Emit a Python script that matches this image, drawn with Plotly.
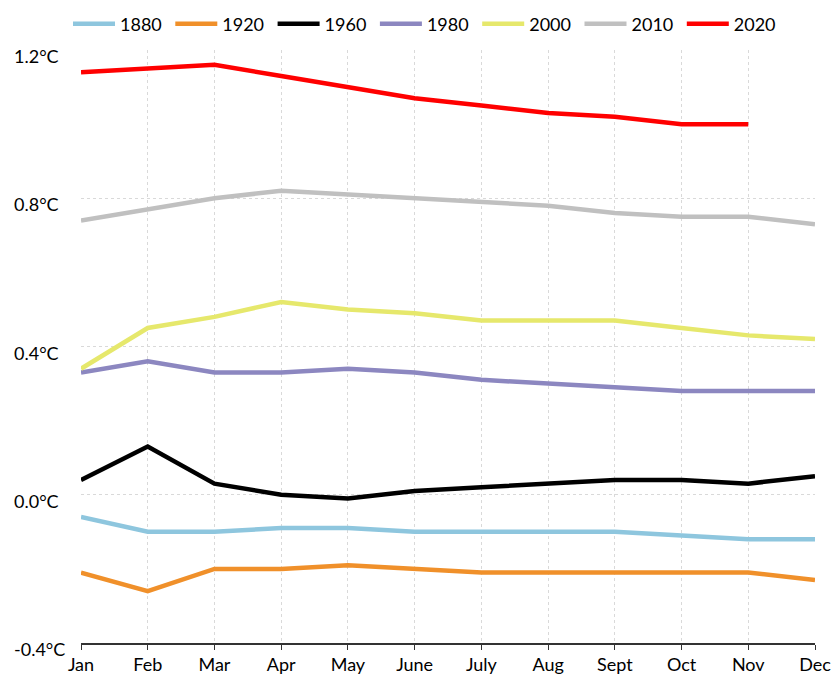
import plotly.graph_objects as go

months = ["Jan", "Feb", "Mar", "Apr", "May", "June", "July", "Aug", "Sept", "Oct", "Nov", "Dec"]

y1880 = [-0.06, -0.10, -0.10, -0.09, -0.09, -0.10, -0.10, -0.10, -0.10, -0.11, -0.12, -0.12]
y1920 = [-0.21, -0.26, -0.20, -0.20, -0.19, -0.20, -0.21, -0.21, -0.21, -0.21, -0.21, -0.23]
y1960 = [0.04, 0.13, 0.03, 0.00, -0.01, 0.01, 0.02, 0.03, 0.04, 0.04, 0.03, 0.05]
y1980 = [0.33, 0.36, 0.33, 0.33, 0.34, 0.33, 0.31, 0.30, 0.29, 0.28, 0.28, 0.28]
y2000 = [0.34, 0.45, 0.48, 0.52, 0.50, 0.49, 0.47, 0.47, 0.47, 0.45, 0.43, 0.42]
y2010 = [0.74, 0.77, 0.80, 0.82, 0.81, 0.80, 0.79, 0.78, 0.76, 0.75, 0.75, 0.73]
y2020 = [1.14, 1.15, 1.16, 1.13, 1.10, 1.07, 1.05, 1.03, 1.02, 1.00, 1.00]

series = [
    ("1880", y1880, "#8ec6de"),
    ("1920", y1920, "#f0902a"),
    ("1960", y1960, "#000000"),
    ("1980", y1980, "#8c87c0"),
    ("2000", y2000, "#e6e86c"),
    ("2010", y2010, "#c0c0c0"),
    ("2020", y2020, "#ff0000"),
]

yticks = [-0.4, 0.0, 0.4, 0.8, 1.2]
ytick_labels = ["-0.4°C", "0.0°C", "0.4°C", "0.8°C", "1.2°C"]

FONT = "Lato, sans-serif"
W, H = 832, 675
ML, MR, MT, MB = 81, 17, 50, 32
PW, PH = W - ML - MR, H - MT - MB

fig = go.Figure()
for name, vals, col in series:
    fig.add_trace(go.Scatter(
        x=months[:len(vals)], y=vals, name=name, mode="lines",
        line=dict(color=col, width=4.5),
    ))

# y tick labels, left aligned like the reference
for v, t in zip(yticks, ytick_labels):
    fig.add_annotation(
        text=t, xref="paper", yref="y", x=-(ML - 12) / PW, y=v,
        xanchor="left", yanchor="middle", yshift=-6, showarrow=False,
        font=dict(family=FONT, size=18, color="black"),
    )

fig.update_layout(
    width=W, height=H,
    paper_bgcolor="white", plot_bgcolor="white",
    margin=dict(l=ML, r=MR, t=MT, b=MB, autoexpand=False),
    font=dict(family=FONT, size=18, color="black"),
    legend=dict(orientation="h", xref="container", yref="container",
                x=68 / W, xanchor="left", y=1 - 24 / H, yanchor="middle",
                font=dict(size=18), itemwidth=42, entrywidth=45.3, entrywidthmode="pixels",
                tracegroupgap=0),
    showlegend=True,
)
fig.update_xaxes(
    type="category", categoryorder="array", categoryarray=months,
    range=[0, 11], showgrid=True, gridcolor="#d9d9d9", griddash="3px,3px", gridwidth=1,
    showline=True, linecolor="#333333", linewidth=1.5,
    ticks="outside", ticklen=5, tickcolor="#333333", automargin=False,
)
fig.update_yaxes(
    range=[-0.4, 1.2], tickvals=yticks, showticklabels=False,
    showgrid=True, gridcolor="#d9d9d9", griddash="3px,3px", gridwidth=1,
    zeroline=False, showline=False, ticks="", automargin=False,
)

fig.write_html("out.html", config={"displayModeBar": False},
               post_script="document.body.style.margin='0';document.body.style.overflow='hidden';")
